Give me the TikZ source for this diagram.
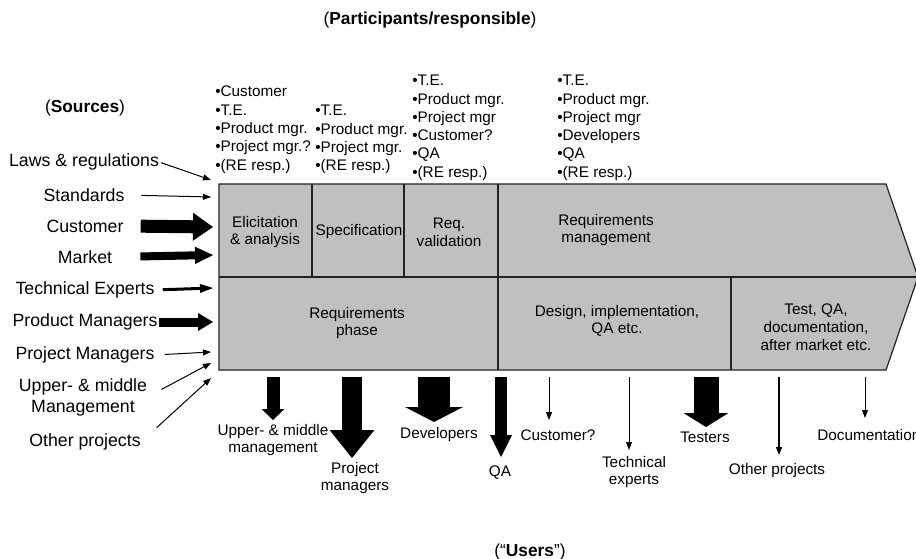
\documentclass[tikz,border=0pt]{standalone}
\usepackage{fontspec}
\setmainfont{Liberation Sans}
\usetikzlibrary{arrows.meta}
\definecolor{boxgray}{RGB}{192,192,192}
\definecolor{edgecol}{RGB}{35,35,35}
\begin{document}
\begin{tikzpicture}[x=0.75pt,y=-0.75pt,
  srclabel/.style={font=\fontsize{13.3}{15.8}\selectfont, align=center, inner sep=0pt},
  lst/.style={font=\fontsize{11.5}{13.7}\selectfont, align=left, anchor=north west, inner sep=0pt},
  lbl/.style={font=\fontsize{11.5}{13.3}\selectfont, align=center, inner sep=0pt},
  title/.style={font=\fontsize{13}{15}\selectfont, inner sep=0pt},
  thinarr/.style={line width=0.75pt, draw=black, -{Triangle[length=6pt,width=4.5pt]}},
  fatarr/.style n args={3}{line width=#1, draw=black, -{Triangle[length=#2,width=#3,line width=0pt]}}
]
\useasboundingbox (0,0) rectangle (916,559);
\clip (0,0) rectangle (916,559);

% titles
\node[title] (ttop) at (430,20) {(\textbf{Participants/responsible})};
\node[title] (tsrc) at (85,108) {(\textbf{Sources})};
\node[title] (tusr) at (530,552) {(“\textbf{Users}”)};

% main chevron shape
\path[draw=edgecol, fill=boxgray, line width=0.9pt]
  (219,184) -- (886,184) -- (918,277) -- (886,370) -- (219,370) -- cycle;
\draw[edgecol, line width=0.9pt] (219,277) -- (918,277);
\draw[edgecol, line width=0.9pt] (312,184) -- (312,277);
\draw[edgecol, line width=0.9pt] (404,184) -- (404,277);
\draw[edgecol, line width=0.9pt] (498,184) -- (498,370);
\draw[edgecol, line width=0.9pt] (731,277) -- (731,370);

% cell labels
\node[lbl] (elic) at (265,232) {Elicitation\\\& analysis};
\node[lbl] (spec) at (359,232) {Specification};
\node[lbl] (rval) at (449,232) {Req.\\validation};
\node[lbl] (rman) at (606,230) {Requirements\\management};
\node[lbl] (rph)  at (357,323) {Requirements\\phase};
\node[lbl] (dsg)  at (617,321) {Design, implementation,\\QA etc.};
\node[lbl] (tst)  at (816,327) {Test, QA,\\documentation,\\after market etc.};

% participant lists
\node[lst] (p1) at (215,86) {•Customer\\•T.E.\\•Product mgr.\\•Project mgr.?\\•(RE resp.)};
\node[lst] (p2) at (315,105) {•T.E.\\•Product mgr.\\•Project mgr.\\•(RE resp.)};
\node[lst] (p3) at (412,75) {•T.E.\\•Product mgr.\\•Project mgr\\•Customer?\\•QA\\•(RE resp.)};
\node[lst] (p4) at (557,75) {•T.E.\\•Product mgr.\\•Project mgr\\•Developers\\•QA\\•(RE resp.)};

% sources
\node[srclabel] (laws) at (84,162) {Laws \& regulations};
\node[srclabel] (stds) at (84,195) {Standards};
\node[srclabel] (cust) at (85,226) {Customer};
\node[srclabel] (mkt)  at (85,257) {Market};
\node[srclabel] (tex)  at (85,290) {Technical Experts};
\node[srclabel] (pdm)  at (85,322) {Product Managers};
\node[srclabel] (pjm)  at (85,355) {Project Managers};
\node[srclabel] (upm)  at (83,397) {Upper- \& middle\\Management};
\node[srclabel] (oth)  at (85,442) {Other projects};

\coordinate (inLaws) at (211,180);
\coordinate (inStds) at (211,197);
\coordinate (inCust) at (213,227);
\coordinate (inMkt)  at (213,255);
\coordinate (inTex)  at (213,288);
\coordinate (inPdm)  at (213,322);
\coordinate (inPjm)  at (211,352);
\coordinate (inUpm)  at (211,363);
\coordinate (inOth)  at (211,378);

\draw[thinarr, shorten <=1.5pt] (laws.east) -- (inLaws);
\draw[thinarr, shorten <=12.5pt] (stds.east) -- (inStds);
\draw[fatarr={9.75pt}{15pt}{21pt}, shorten <=12.75pt] (cust.east) -- (inCust);
\draw[fatarr={6pt}{13.5pt}{13pt}, shorten <=21pt] (mkt.east) -- (inMkt);
\draw[fatarr={2.25pt}{9.75pt}{6.75pt}, shorten <=6pt] (tex.east) -- (inTex);
\draw[fatarr={6.75pt}{11.25pt}{13.5pt}, shorten <=1pt] (pdm.east) -- (inPdm);
\draw[thinarr, shorten <=7.5pt] (pjm.east) -- (inPjm);
\draw[thinarr, shorten <=12pt] (upm.east) -- (inUpm);
\draw[thinarr, shorten <=16pt] (oth.east) -- (inOth);

% users labels
\node[lbl] (uUpm) at (273,440) {Upper- \& middle\\management};
\node[lbl] (uPjm) at (355,478) {Project\\managers};
\node[lbl] (uDev) at (439,435) {Developers};
\node[lbl] (uQA)  at (500,473) {QA};
\node[lbl] (uCus) at (558,435) {Customer?};
\node[lbl] (uTex) at (634,472) {Technical\\experts};
\node[lbl] (uTst) at (705,437) {Testers};
\node[lbl] (uOth) at (777,471) {Other projects};
\node[lbl, anchor=west] (uDoc) at (817,435) {Documentation};

% users arrows
\coordinate (oUpm) at (273,377); \coordinate (tUpm) at (273,420);
\coordinate (oPjm) at (352,377); \coordinate (tPjm) at (352,458);
\coordinate (oDev) at (434,377); \coordinate (tDev) at (434,422);
\coordinate (oQA)  at (501,377); \coordinate (tQA)  at (501,457);
\coordinate (oCus) at (549,377); \coordinate (tCus) at (549,420);
\coordinate (oTex) at (629,377); \coordinate (tTex) at (629,450);
\coordinate (oTst) at (706,377); \coordinate (tTst) at (706,427);
\coordinate (oOth) at (779,377); \coordinate (tOth) at (779,455);
\coordinate (oDoc) at (865,377); \coordinate (tDoc) at (865,418);

\draw[fatarr={9.75pt}{8.25pt}{17.25pt}] (oUpm) -- (tUpm);
\draw[fatarr={15pt}{21pt}{33.75pt}] (oPjm) -- (tPjm);
\draw[fatarr={24pt}{11.25pt}{43.5pt}] (oDev) -- (tDev);
\draw[fatarr={9pt}{16.5pt}{16.5pt}] (oQA) -- (tQA);
\draw[thinarr] (oCus) -- (tCus);
\draw[thinarr] (oTex) -- (tTex);
\draw[fatarr={18.75pt}{10.5pt}{33.75pt}] (oTst) -- (tTst);
\draw[thinarr, line width=1pt] (oOth) -- (tOth);
\draw[thinarr] (oDoc) -- (tDoc);
\end{tikzpicture}
\end{document}
